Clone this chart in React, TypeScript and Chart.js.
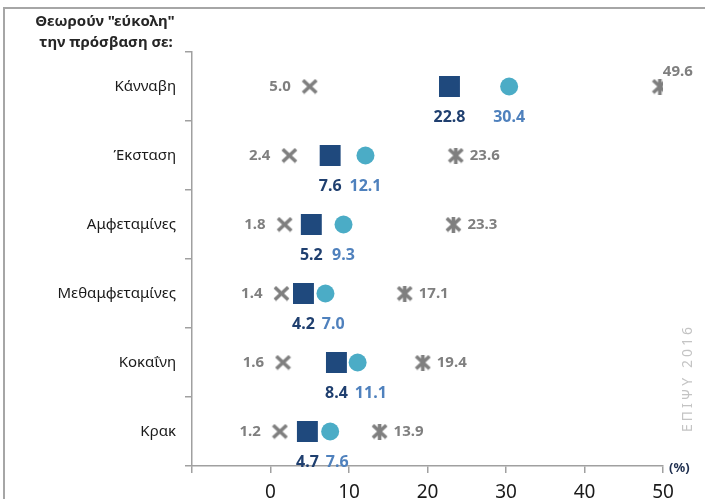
import React, { useEffect, useRef } from 'react';
import { Chart, registerables } from 'chart.js';

Chart.register(...registerables);

const categories = ['Κάνναβη', 'Έκσταση', 'Αμφεταμίνες', 'Μεθαμφεταμίνες', 'Κοκαΐνη', 'Κρακ'];
const crossValues = [5.0, 2.4, 1.8, 1.4, 1.6, 1.2];
const squareValues = [22.8, 7.6, 5.2, 4.2, 8.4, 4.7];
const circleValues = [30.4, 12.1, 9.3, 7.0, 11.1, 7.6];
const starValues = [49.6, 23.6, 23.3, 17.1, 19.4, 13.9];
const xMin = -10;
const xMax = 50;
const xStep = 10;
const titleLines = ['Θεωρούν "εύκολη"', 'την πρόσβαση σε:'];
const unitLabel = '(%)';
const watermark = 'ΕΠΙΨΥ 2016';

const FONT = '"Noto Sans", "DejaVu Sans", sans-serif';
const GRAY = '#7f7f7f';
const AXIS = '#a0a0a0';

function makeMarker(kind: 'x' | 'star', w: number, h: number, lw: number, color: string) {
  const c = document.createElement('canvas');
  c.width = w;
  c.height = h;
  const ctx = c.getContext('2d')!;
  ctx.strokeStyle = color;
  ctx.lineWidth = lw;
  const p = lw / 2;
  ctx.beginPath();
  ctx.moveTo(p, p);
  ctx.lineTo(w - p, h - p);
  ctx.moveTo(w - p, p);
  ctx.lineTo(p, h - p);
  if (kind === 'star') {
    ctx.moveTo(w / 2, 0);
    ctx.lineTo(w / 2, h);
  }
  ctx.stroke();
  return c;
}

const labelPlugin = {
  id: 'pointLabels',
  afterDatasetsDraw(chart: any) {
    const ctx = chart.ctx;
    ctx.save();
    // right edge of the "below" label of the previous dataset per category, to avoid overlap
    const belowRight: Record<number, number> = {};
    chart.data.datasets.forEach((ds: any, i: number) => {
      const meta = chart.getDatasetMeta(i);
      const lc = ds.labelCfg;
      meta.data.forEach((pt: any, j: number) => {
        const v = ds.data[j].x;
        const txt = v.toFixed(1);
        ctx.font = lc.font;
        ctx.fillStyle = lc.color;
        ctx.textBaseline = 'middle';
        if (lc.pos === 'left') {
          ctx.textAlign = 'right';
          ctx.fillText(txt, pt.x - 19, pt.y);
        } else if (lc.pos === 'below') {
          const w = ctx.measureText(txt).width;
          let cx = pt.x;
          if (belowRight[j] !== undefined) {
            cx = Math.max(cx, belowRight[j] + 7 + w / 2);
          }
          ctx.textAlign = 'center';
          ctx.fillText(txt, cx, pt.y + 31);
          belowRight[j] = cx + w / 2;
        } else {
          ctx.textAlign = 'left';
          if (v > 45) {
            ctx.fillText(txt, pt.x + 3, pt.y - 15);
          } else {
            ctx.fillText(txt, pt.x + 14, pt.y);
          }
        }
      });
    });
    ctx.restore();
  },
};

const decorPlugin = {
  id: 'decor',
  afterDraw(chart: any) {
    const ctx = chart.ctx;
    const area = chart.chartArea;
    ctx.save();
    ctx.fillStyle = '#262626';
    ctx.font = `bold 15px ${FONT}`;
    ctx.textAlign = 'center';
    ctx.textBaseline = 'middle';
    ctx.fillText(titleLines[0], 105, 22);
    ctx.fillText(titleLines[1], 106, 43);

    ctx.font = `bold 13px ${FONT}`;
    ctx.textAlign = 'left';
    ctx.fillStyle = '#1f2f4f';
    ctx.fillText(unitLabel, area.right + 6, area.bottom + 2);

    ctx.translate(688, 378);
    ctx.rotate(-Math.PI / 2);
    ctx.fillStyle = '#c4c4c4';
    ctx.font = `14px ${FONT}`;
    (ctx as any).letterSpacing = '3px';
    ctx.textAlign = 'center';
    ctx.fillText(watermark, 0, 0);
    ctx.restore();
  },
};

export default function App() {
  const ref = useRef<HTMLCanvasElement>(null);
  useEffect(() => {
    const crossImg = makeMarker('x', 17, 16, 3.6, GRAY);
    const starImg = makeMarker('star', 17, 16, 3.6, GRAY);
    const toPts = (arr: number[]) => arr.map((x, i) => ({ x, y: categories[i] }));
    const chart = new Chart(ref.current!, {
      type: 'scatter',
      data: {
        datasets: [
          {
            label: 'x',
            data: toPts(crossValues),
            pointStyle: crossImg as any,
            labelCfg: { pos: 'left', color: GRAY, font: `bold 15px ${FONT}` },
          } as any,
          {
            label: 'star',
            data: toPts(starValues),
            pointStyle: starImg as any,
            labelCfg: { pos: 'right', color: GRAY, font: `bold 15px ${FONT}` },
          } as any,
          {
            label: 'square',
            data: toPts(squareValues),
            pointStyle: 'rect',
            pointRadius: 14.8,
            backgroundColor: '#1f497d',
            borderColor: '#1f497d',
            borderWidth: 0,
            labelCfg: { pos: 'below', color: '#1f3f6f', font: `bold 16px ${FONT}` },
          } as any,
          {
            label: 'circle',
            data: toPts(circleValues),
            pointStyle: 'circle',
            pointRadius: 9,
            backgroundColor: '#4bacc6',
            borderColor: '#4bacc6',
            borderWidth: 0,
            labelCfg: { pos: 'below', color: '#4f81bd', font: `bold 16px ${FONT}` },
          } as any,
        ],
      },
      options: {
        animation: false,
        responsive: false,
        events: [],
        layout: { padding: { top: 52, right: 42, left: 0, bottom: 0 } },
        plugins: {
          legend: { display: false },
          tooltip: { enabled: false },
        },
        scales: {
          x: {
            type: 'linear',
            min: xMin,
            max: xMax,
            afterFit: (s: any) => {
              s.height = 33;
            },
            ticks: {
              stepSize: xStep,
              padding: 8,
              color: '#1a1a1a',
              font: { family: FONT, size: 19 },
              callback: (v: any) => (Number(v) < 0 ? '' : String(v)),
            },
            grid: {
              drawOnChartArea: false,
              drawTicks: true,
              tickLength: 7,
              color: AXIS,
              lineWidth: 1.5,
            },
            border: { display: true, color: AXIS, width: 1.5 },
          },
          y: {
            type: 'category',
            labels: categories,
            offset: true,
            afterFit: (s: any) => {
              s.width = 192;
            },
            ticks: {
              padding: 9,
              color: '#1a1a1a',
              font: { family: FONT, size: 15 },
            },
            grid: {
              offset: true,
              drawOnChartArea: false,
              drawTicks: true,
              tickLength: 7,
              color: AXIS,
              lineWidth: 1.5,
            },
            border: { display: true, color: AXIS, width: 1.5 },
          },
        },
      } as any,
      plugins: [labelPlugin, decorPlugin],
    });
    return () => chart.destroy();
  }, []);

  return (
    <div style={{ position: 'fixed', left: 0, top: 0, width: 705, height: 499, overflow: 'hidden', background: '#fff' }}>
      <div
        style={{
          position: 'absolute',
          left: 3,
          top: 7,
          width: 800,
          height: 600,
          borderLeft: '2px solid #a6a6a6',
          borderTop: '2px solid #a6a6a6',
        }}
      />
      <canvas ref={ref} width={705} height={499} style={{ position: 'absolute', left: 0, top: 0 }} />
    </div>
  );
}
